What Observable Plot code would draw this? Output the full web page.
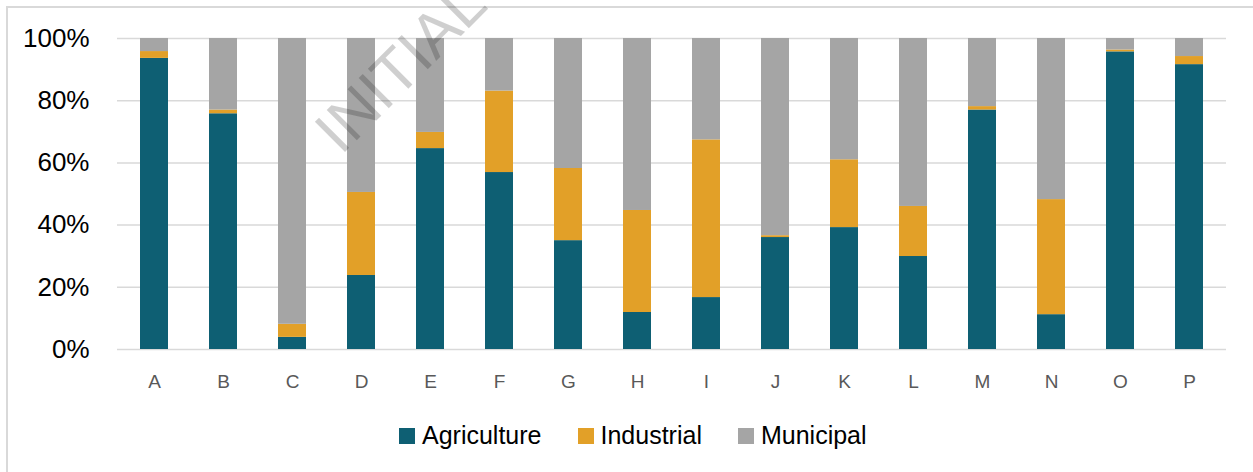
<!DOCTYPE html>
<html>
<head>
<meta charset="utf-8">
<script src="https://cdn.jsdelivr.net/npm/d3@7"></script>
<script src="https://cdn.jsdelivr.net/npm/@observablehq/plot@0.6"></script>
<style>
  html, body { margin: 0; padding: 0; background: #fff; }
  #wrap { position: relative; width: 1253px; height: 472px; overflow: hidden; font-family: "Liberation Sans", Arial, sans-serif; }
  #frame { position: absolute; left: 6px; top: 6px; width: 2000px; height: 2000px; border: 2px solid #D9D9D9; box-sizing: border-box; }
  #chart { position: absolute; left: 0; top: 0; }
  #legend { position: absolute; top: 421px; left: 399px; display: flex; align-items: center; font-size: 25px; color: #000; white-space: nowrap; }
  #legend .item { display: flex; align-items: center; margin-right: 36px; }
  #legend .sw { width: 16px; height: 16px; margin-right: 7px; }
  #wm { position: absolute; left: 0; top: 0; pointer-events: none; }
</style>
</head>
<body>
<div id="wrap">
  <div id="frame"></div>
  <div id="chart"></div>
  <div id="legend"></div>
  <svg id="wm" width="1253" height="472"></svg>
</div>
<script>
const categories = ["A","B","C","D","E","F","G","H","I","J","K","L","M","N","O","P"];
const agriculture = [93.6, 75.8, 3.9, 23.8, 64.6, 56.9, 35.0, 11.9, 16.7, 36.0, 39.2, 29.9, 77.0, 11.2, 95.7, 91.6];
const industrial  = [2.2, 1.2, 4.2, 26.7, 5.2, 26.2, 23.2, 32.8, 50.7, 0.6, 21.8, 16.1, 1.1, 37.0, 0.6, 2.6];
const municipal   = [4.2, 23.0, 91.9, 49.5, 30.2, 16.9, 41.8, 55.3, 32.6, 63.4, 39.0, 54.0, 21.9, 51.8, 3.7, 5.8];
const seriesNames = ["Agriculture", "Industrial", "Municipal"];
const seriesColors = ["#0E5F73", "#E2A028", "#A5A5A5"];
const yTicks = [0, 20, 40, 60, 80, 100];
const watermarkText = "INITIAL";

const seriesValues = [agriculture, industrial, municipal];
const rows = [];
seriesNames.forEach((s, si) => {
  categories.forEach((c, ci) => rows.push({category: c, series: s, value: seriesValues[si][ci]}));
});

const chart = Plot.plot({
  width: 1253,
  height: 400,
  marginLeft: 117,
  marginRight: 27,
  marginTop: 38,
  marginBottom: 51,
  style: {fontFamily: "'Liberation Sans', Arial, sans-serif", background: "transparent"},
  x: {domain: categories, paddingInner: 0.6, paddingOuter: 0.3, label: null, tickSize: 0, tickPadding: 25},
  y: {domain: [0, 100], ticks: yTicks, label: null, tickSize: 0, tickPadding: 28, tickFormat: d => d + "%"},
  color: {domain: seriesNames, range: seriesColors},
  marks: [
    Plot.gridY(yTicks, {stroke: "#D9D9D9", strokeOpacity: 1, strokeWidth: 1.5}),
    Plot.barY(rows, {x: "category", y: "value", fill: "series", order: seriesNames}),
    Plot.axisX({tickSize: 0, tickPadding: 25, fontSize: 19, fill: "#595959", label: null}),
    Plot.axisY({ticks: yTicks, tickSize: 0, tickPadding: 28, fontSize: 26, fill: "#000", tickFormat: d => d + "%", label: null})
  ]
});
document.getElementById("chart").appendChild(chart);

const legend = document.getElementById("legend");
seriesNames.forEach((s, i) => {
  const item = document.createElement("div");
  item.className = "item";
  const sw = document.createElement("div");
  sw.className = "sw";
  sw.style.background = seriesColors[i];
  const t = document.createElement("span");
  t.textContent = s;
  item.appendChild(sw);
  item.appendChild(t);
  legend.appendChild(item);
});

const wm = d3.select("#wm");
wm.append("text")
  .attr("x", 341).attr("y", 156)
  .attr("transform", "rotate(-45 341 156)")
  .attr("font-family", "'Liberation Sans', Arial, sans-serif")
  .attr("font-size", 62)
  .attr("fill", "#000")
  .attr("fill-opacity", 0.19)
  .text(watermarkText);
</script>
</body>
</html>
